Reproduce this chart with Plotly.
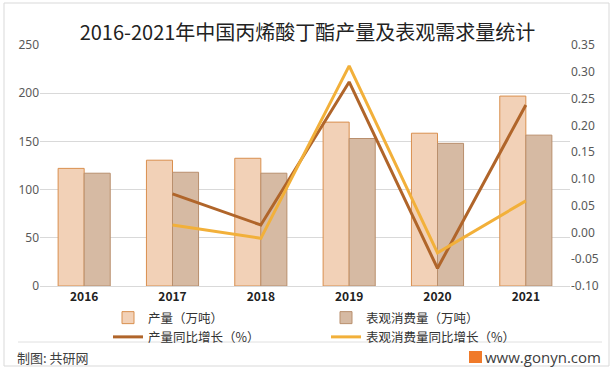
import plotly.graph_objects as go

years = ["2016", "2017", "2018", "2019", "2020", "2021"]
production = [122, 130.5, 132.5, 170, 158.5, 197]
consumption = [117, 118, 117, 153, 148, 156.5]
prod_growth = [None, 0.072, 0.014, 0.281, -0.067, 0.238]
cons_growth = [None, 0.014, -0.011, 0.311, -0.038, 0.059]

left_ticks = [0, 50, 100, 150, 200, 250]
right_ticks = [-0.10, -0.05, 0.00, 0.05, 0.10, 0.15, 0.20, 0.25, 0.30, 0.35]
right_labels = ["-0.10", "-0.05", "0.00", "0.05", "0.10", "0.15", "0.20", "0.25", "0.30", "0.35"]

FONT = "Noto Sans CJK SC"

fig = go.Figure()
fig.add_trace(go.Bar(
    x=years, y=production, name="产量（万吨）",
    marker=dict(color="#F2D1B7", line=dict(color="#D98F4E", width=1)),
))
fig.add_trace(go.Bar(
    x=years, y=consumption, name="表观消费量（万吨）",
    marker=dict(color="#D6BAA3", line=dict(color="#B98F6D", width=1)),
))
fig.add_trace(go.Scatter(
    x=years, y=prod_growth, name="产量同比增长（%）", yaxis="y2",
    mode="lines", line=dict(color="#B0652A", width=3),
))
fig.add_trace(go.Scatter(
    x=years, y=cons_growth, name="表观消费量同比增长（%）", yaxis="y2",
    mode="lines", line=dict(color="#F2B03A", width=3),
))

fig.update_layout(
    width=615, height=370,
    margin=dict(l=40, r=45, t=45, b=84, autoexpand=False),
    paper_bgcolor="white", plot_bgcolor="white",
    font=dict(family=FONT, size=12, color="#595959"),
    title=dict(text="2016-2021年中国丙烯酸丁酯产量及表观需求量统计",
               x=0.5, xanchor="center", y=1 - 33 / 370, yanchor="middle",
               font=dict(family=FONT, size=20, color="#222222")),
    barmode="group", bargap=0.41, bargroupgap=0,
    showlegend=True,
    legend=dict(orientation="h", xref="container", yref="container",
                x=108 / 615, xanchor="left", y=1 - 303 / 370, yanchor="top",
                entrywidth=173, entrywidthmode="pixels",
                font=dict(family=FONT, size=12.5, color="#333333"),
                itemwidth=30, tracegroupgap=0, bgcolor="rgba(0,0,0,0)"),
    xaxis=dict(type="category", showgrid=False, showline=True, linecolor="#d9d9d9",
               ticks="", tickfont=dict(family=FONT, size=12, color="#222222", weight="bold")),
    yaxis=dict(range=[0, 250], tickvals=left_ticks, showgrid=True, gridcolor="#d9d9d9",
               zeroline=False, showline=False, ticks="",
               tickfont=dict(family="Noto Sans", size=12, color="#595959")),
    yaxis2=dict(range=[-0.10, 0.35], tickvals=right_ticks, ticktext=right_labels,
                overlaying="y", side="right", showgrid=False, zeroline=False,
                showline=False, ticks="",
                tickfont=dict(family="Noto Sans", size=12, color="#595959")),
)

# outer border and footer separator
fig.add_shape(type="rect", xref="paper", yref="paper",
              x0=(4 - 40) / 530, x1=(609 - 40) / 530,
              y0=(286 - 366) / 241, y1=(286 - 3) / 241,
              line=dict(color="#d9d9d9", width=1), layer="below")
fig.add_shape(type="line", xref="paper", yref="paper",
              x0=(18 - 40) / 530, x1=(602 - 40) / 530,
              y0=(286 - 342) / 241, y1=(286 - 342) / 241,
              line=dict(color="#e0e0e0", width=1))
# logo square
fig.add_shape(type="rect", xref="paper", yref="paper",
              x0=(469 - 40) / 530, x1=(482 - 40) / 530,
              y0=(286 - 363) / 241, y1=(286 - 351) / 241,
              line=dict(width=0), fillcolor="#F07A2A")

fig.add_annotation(text="制图: 共研网", xref="paper", yref="paper",
                   x=(15 - 40) / 530, y=(286 - 357) / 241, xanchor="left", yanchor="middle",
                   showarrow=False, font=dict(family=FONT, size=13, color="#404040"))
fig.add_annotation(text="www.gonyn.com", xref="paper", yref="paper",
                   x=(603 - 40) / 530, y=(286 - 357) / 241, xanchor="right", yanchor="middle",
                   showarrow=False, font=dict(family="Open Sans", size=15, color="#404040"))

fig.write_html("out.html", config={"displayModeBar": False},
               post_script="document.body.style.margin='0';")
